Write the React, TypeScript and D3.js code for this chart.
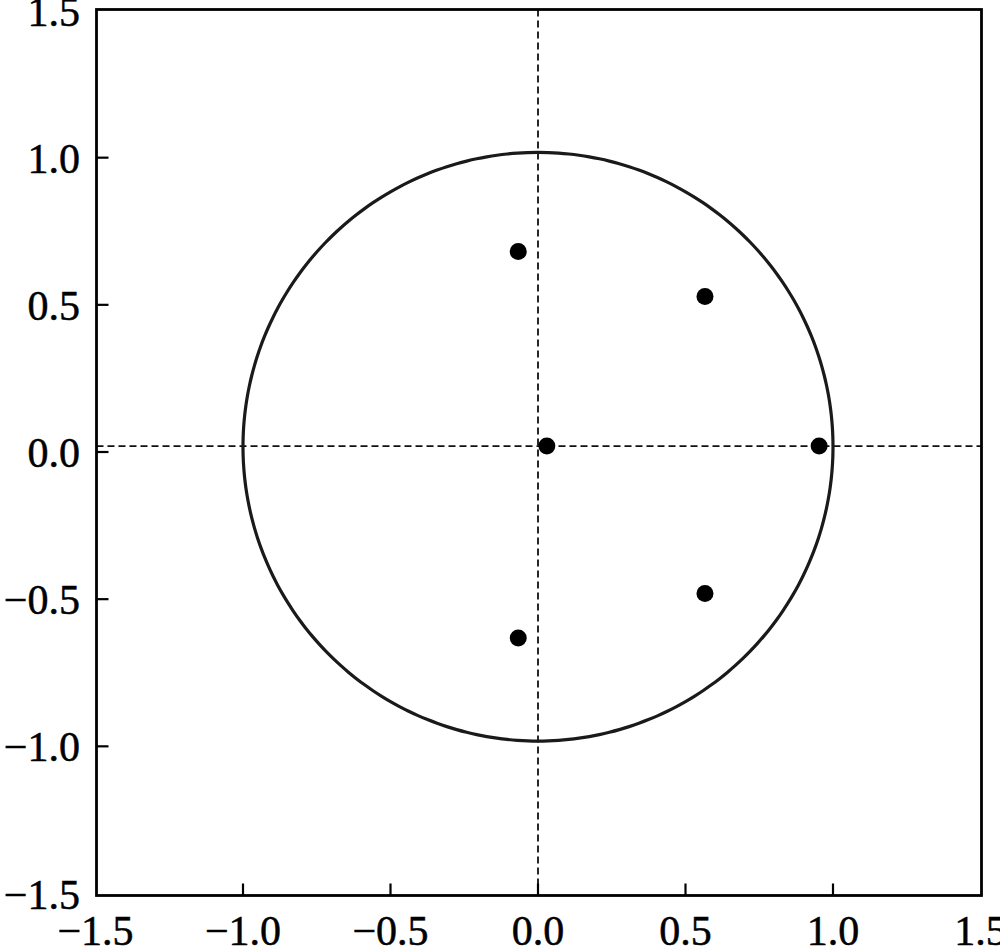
import React from "react";
import * as d3 from "d3";

const xTicks = [-1.5, -1.0, -0.5, 0.0, 0.5, 1.0, 1.5];
const yTicks = [-1.5, -1.0, -0.5, 0.0, 0.5, 1.0, 1.5];
const pointX = [0.03, 0.953, -0.067, 0.566, 0.566, -0.067];
const pointY = [0.02, 0.02, 0.681, 0.528, -0.481, -0.632];
const circleCenter = [0.0, 0.018];
const circleRadius = [1.0];
const refLineX = [0.0];
const refLineY = [0.02];

const W = 1000;
const H = 948;
const left = 96.5;
const right = 981.5;
const top = 9.5;
const bottom = 895.5;

export default function App() {
  const x = d3.scaleLinear().domain([-1.5, 1.5]).range([left - 1, right - 1]);
  const y = d3.scaleLinear().domain([-1.5, 1.5]).range([bottom - 2, top + 1]);
  const fmt = (v: number) => d3.format(".1f")(v);

  const angles = d3.range(0, 360, 2).map((a) => (a * Math.PI) / 180);
  const circ = d3
    .line<number>()
    .x((a) => x(circleCenter[0] + circleRadius[0] * Math.cos(a)))
    .y((a) => y(circleCenter[1] + circleRadius[0] * Math.sin(a)))
    .curve(d3.curveCardinalClosed);

  const font = "'Liberation Serif', 'Times New Roman', serif";
  const inner = (t: number) => t > -1.5 && t < 1.5;

  return (
    <svg
      width={W}
      height={H}
      style={{ position: "absolute", left: 0, top: 0, background: "#fff" }}
    >
      <rect x={0} y={0} width={W} height={H} fill="#fff" />
      {refLineX.map((v, i) => (
        <line
          key={"rx" + i}
          x1={x(v)}
          x2={x(v)}
          y1={top}
          y2={bottom}
          stroke="#111"
          strokeWidth={1.8}
          strokeDasharray="7,4"
        />
      ))}
      {refLineY.map((v, i) => (
        <line
          key={"ry" + i}
          x1={left}
          x2={right}
          y1={y(v)}
          y2={y(v)}
          stroke="#111"
          strokeWidth={1.8}
          strokeDasharray="7,4"
        />
      ))}
      <path d={circ(angles) || ""} fill="none" stroke="#1a1a1a" strokeWidth={3.2} />
      {pointX.map((px, i) => (
        <circle key={"p" + i} cx={x(px)} cy={y(pointY[i])} r={8.5} fill="#000" />
      ))}
      <rect
        x={left}
        y={top}
        width={right - left}
        height={bottom - top}
        fill="none"
        stroke="#000"
        strokeWidth={2.8}
      />
      {xTicks.map((t) => (
        <g key={"xt" + t}>
          {inner(t) && (
            <line x1={x(t)} x2={x(t)} y1={bottom} y2={bottom - 12} stroke="#000" strokeWidth={2.2} />
          )}
          <text
            x={x(t)}
            y={945}
            textAnchor="middle"
            fontFamily={font}
            fontSize={42}
            fill="#000"
            stroke="#000"
            strokeWidth={0.5}
          >
            {fmt(t)}
          </text>
        </g>
      ))}
      {yTicks.map((t) => (
        <g key={"yt" + t}>
          {inner(t) && (
            <line x1={left} x2={left + 12} y1={y(t)} y2={y(t)} stroke="#000" strokeWidth={2.2} />
          )}
          <text
            x={80}
            y={y(t) + 15}
            textAnchor="end"
            fontFamily={font}
            fontSize={42}
            fill="#000"
            stroke="#000"
            strokeWidth={0.5}
          >
            {fmt(t)}
          </text>
        </g>
      ))}
    </svg>
  );
}
